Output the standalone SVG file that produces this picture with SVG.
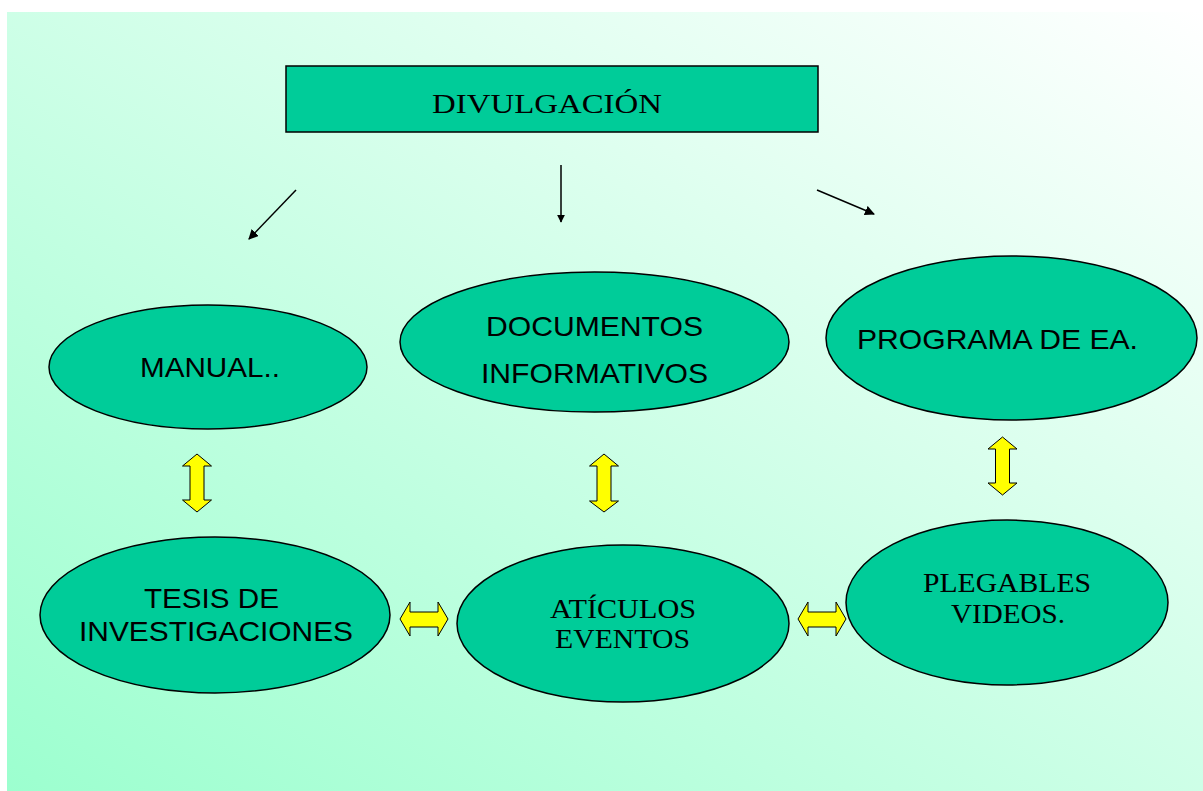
<svg xmlns="http://www.w3.org/2000/svg" width="1203" height="791" viewBox="0 0 1203 791">
<defs>
<linearGradient id="bg" x1="1" y1="0" x2="0" y2="1">
<stop offset="0" stop-color="#ffffff"/>
<stop offset="1" stop-color="#9cffcf"/>
</linearGradient>
<marker id="ah" viewBox="0 0 10 10" refX="9" refY="5" markerWidth="8" markerHeight="8" markerUnits="userSpaceOnUse" orient="auto">
<path d="M0,0 L10,5 L0,10 Z" fill="#000"/>
</marker>
<marker id="ah2" viewBox="0 0 10 10" refX="9" refY="5" markerWidth="10" markerHeight="10" markerUnits="userSpaceOnUse" orient="auto">
<path d="M0,0 L10,5 L0,10 Z" fill="#000"/>
</marker>
</defs>
<style>
.node{fill:#00cc99;stroke:#000;stroke-width:1.5}
.sans{font-family:"Liberation Sans",Arial,sans-serif;font-size:28px;fill:#000;text-anchor:middle}
.serif{font-family:"Liberation Serif","Times New Roman",serif;font-size:28px;fill:#000;text-anchor:middle}
.conn{stroke:#000;stroke-width:1.5;fill:none}
.dbl{fill:#ffff00;stroke:#000;stroke-width:1}
</style>
<rect x="0" y="0" width="1203" height="791" fill="#ffffff"/>
<rect x="7" y="12" width="1196" height="779" fill="url(#bg)"/>

<g id="divulgacion">
<rect class="node" x="286" y="66" width="532" height="66"/>
<text class="serif" x="547" y="113" textLength="230" lengthAdjust="spacingAndGlyphs">DIVULGACIÓN</text>
</g>

<g id="manual">
<ellipse class="node" cx="208" cy="367" rx="159" ry="62"/>
<text class="sans" x="210" y="377" textLength="140" lengthAdjust="spacingAndGlyphs">MANUAL..</text>
</g>

<g id="documentos">
<ellipse class="node" cx="594.5" cy="342" rx="194.5" ry="70"/>
<text class="sans" x="594.5" y="335.5" textLength="217" lengthAdjust="spacingAndGlyphs">DOCUMENTOS</text>
<text class="sans" x="594.5" y="383" textLength="227" lengthAdjust="spacingAndGlyphs">INFORMATIVOS</text>
</g>

<g id="programa">
<ellipse class="node" cx="1011.5" cy="338" rx="185.5" ry="82"/>
<text class="sans" x="997.5" y="349" textLength="281" lengthAdjust="spacingAndGlyphs">PROGRAMA DE EA.</text>
</g>

<g id="tesis">
<ellipse class="node" cx="215" cy="615" rx="175" ry="78"/>
<text class="sans" x="211.5" y="608" textLength="135" lengthAdjust="spacingAndGlyphs">TESIS DE</text>
<text class="sans" x="216" y="641" textLength="274" lengthAdjust="spacingAndGlyphs">INVESTIGACIONES</text>
</g>

<g id="articulos">
<ellipse class="node" cx="623" cy="623.5" rx="166" ry="78.5"/>
<text class="serif" x="623" y="618" textLength="146" lengthAdjust="spacingAndGlyphs">ATÍCULOS</text>
<text class="serif" x="622.5" y="648" textLength="135" lengthAdjust="spacingAndGlyphs">EVENTOS</text>
</g>

<g id="plegables">
<ellipse class="node" cx="1007" cy="602.5" rx="161" ry="82.5"/>
<text class="serif" x="1007" y="592" textLength="168" lengthAdjust="spacingAndGlyphs">PLEGABLES</text>
<text class="serif" x="1008" y="623" textLength="114" lengthAdjust="spacingAndGlyphs">VIDEOS.</text>
</g>

<g id="connectors">
<line class="conn" x1="296" y1="190" x2="249" y2="239" marker-end="url(#ah2)"/>
<line class="conn" x1="561" y1="165" x2="561" y2="222" marker-end="url(#ah)"/>
<line class="conn" x1="817" y1="190" x2="874" y2="214" marker-end="url(#ah2)"/>
<path class="dbl" d="M197,454 L211.5,466 L204,466 L204,500 L211.5,500 L197,512 L182.5,500 L190,500 L190,466 L182.5,466 Z"/>
<path class="dbl" d="M604,454 L618.5,466 L611,466 L611,501 L618.5,501 L604,512 L589.5,501 L597,501 L597,466 L589.5,466 Z"/>
<path class="dbl" d="M1002.5,437 L1017,449 L1009.5,449 L1009.5,483 L1017,483 L1002.5,495 L988,483 L995.5,483 L995.5,449 L988,449 Z"/>
<path class="dbl" d="M400,619 L410,602 L410,612 L438,612 L438,602 L448,619 L438,636 L438,627 L410,627 L410,636 Z"/>
<path class="dbl" d="M798,619 L808,602 L808,612 L836,612 L836,602 L846,619 L836,636 L836,627 L808,627 L808,636 Z"/>
</g>
</svg>
